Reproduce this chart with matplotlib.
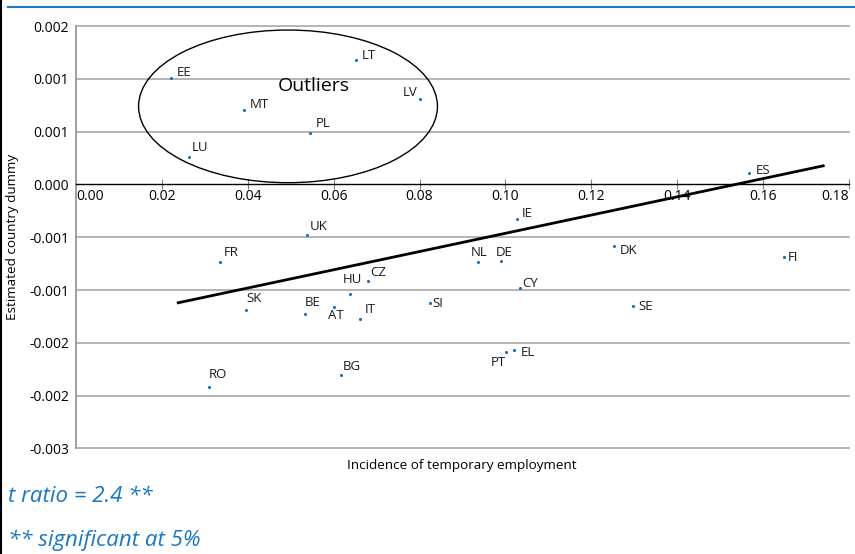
import matplotlib
matplotlib.use("Agg")
from matplotlib import pyplot as plt
from matplotlib.patches import Ellipse
from matplotlib.lines import Line2D

plt.rcParams['font.family'] = ['Open Sans', 'DejaVu Sans']

# Country dummies vs incidence of temporary employment
countries = ['EE', 'MT', 'LU', 'LT', 'LV', 'PL', 'ES', 'IE', 'UK', 'FR', 'DK', 'NL',
             'DE', 'FI', 'CZ', 'HU', 'CY', 'SK', 'BE', 'AT', 'IT', 'SI', 'SE', 'PT',
             'EL', 'BG', 'RO']
temp_share = [0.0221, 0.0392, 0.0262, 0.0652, 0.0800, 0.0545, 0.1568, 0.1027, 0.0538,
              0.0335, 0.1252, 0.0935, 0.0990, 0.1649, 0.0680, 0.0639, 0.1035, 0.0397,
              0.0533, 0.0601, 0.0661, 0.0824, 0.1297, 0.1001, 0.1021, 0.0617, 0.0310]
dummy = [0.00101, 0.000704, 0.000256, 0.001174, 0.000808, 0.000489, 0.00011, -0.000326,
         -0.00048, -0.000733, -0.000581, -0.000739, -0.000729, -0.000688, -0.000919,
         -0.001039, -0.000982, -0.00119, -0.001225, -0.001165, -0.001276, -0.001127,
         -0.001155, -0.001588, -0.001569, -0.001809, -0.001917]

# trend line end points
trend_x = [0.0238, 0.174]
trend_y = [-0.001121, 0.000176]

x_ticks = [0.00, 0.02, 0.04, 0.06, 0.08, 0.10, 0.12, 0.14, 0.16, 0.18]
y_ticks = [0.0015, 0.001, 0.0005, 0.0, -0.0005, -0.001, -0.0015, -0.002, -0.0025]
y_tick_labels = ['0.002', '0.001', '0.001', '0.000', '-0.001', '-0.001', '-0.002', '-0.002', '-0.003']

# label offsets in pixels (default: upper right of the dot)
default_off = (5, 6, 'left')
label_off = {
    'LV': (-2, 7, 'right'), 'HU': (2, 15, 'center'), 'AT': (2, -8, 'center'),
    'PT': (0, -10, 'right'), 'NL': (2, 10, 'center'), 'DE': (3, 9, 'center'),
    'BG': (2, 9, 'left'), 'RO': (0, 12, 'left'), 'UK': (3, 9, 'left'),
    'SK': (0, 12, 'left'), 'FR': (4, 9, 'left'), 'BE': (0, 11, 'left'),
    'IT': (5, 10, 'left'), 'CZ': (2, 9, 'left'), 'CY': (2, 5, 'left'),
    'IE': (5, 5, 'left'), 'DK': (6, -5, 'left'), 'SE': (5, 0, 'left'),
    'FI': (4, 0, 'left'), 'SI': (3, 0, 'left'), 'EL': (6, -2, 'left'),
    'ES': (6, 2, 'left'), 'LT': (6, 5, 'left'), 'MT': (5, 6, 'left'),
    'LU': (3, 10, 'left'), 'PL': (6, 9, 'left'), 'EE': (6, 5, 'left'),
}

blue = '#1f6db3'
text_blue = '#1b78c0'

fig = plt.figure(figsize=(8.55, 5.54), dpi=100)
ax = fig.add_axes([76/855, 1 - 448.4/554, (849 - 76)/855, (448.4 - 26)/554])

ax.set_xlim(0, 0.18)
ax.set_ylim(-0.0025, 0.0015)

for yv in y_ticks:
    if yv != 0:
        ax.axhline(yv, color='#a8a8a8', lw=1.2, zorder=0, clip_on=False)

ax.spines['top'].set_visible(False)
ax.spines['right'].set_visible(False)
ax.spines['left'].set_color('#a0a0a0')
ax.spines['left'].set_linewidth(1.4)
ax.spines['bottom'].set_position(('data', 0))
ax.spines['bottom'].set_color('black')
ax.spines['bottom'].set_linewidth(1.0)

ax.set_xticks(x_ticks)
ax.set_xticklabels([f'{v:.2f}' for v in x_ticks])
ax.set_yticks(y_ticks)
ax.set_yticklabels(y_tick_labels)
ax.tick_params(axis='x', direction='inout', length=7, width=0.8, color='#808080',
               labelsize=10, pad=0)
ax.tick_params(axis='y', length=0, labelsize=10, pad=5)
xlabels = ax.get_xticklabels()
xlabels[0].set_horizontalalignment('left')
xlabels[-1].set_horizontalalignment('right')

ax.plot(trend_x, trend_y, color='black', lw=2.0, zorder=3)

ax.scatter(temp_share, dummy, s=5, color=blue, zorder=4, linewidths=0)
for c, xv, yv in zip(countries, temp_share, dummy):
    dx, dy, ha = label_off.get(c, default_off)
    ax.annotate(c, (xv, yv), xytext=(dx, dy), textcoords='offset pixels',
                ha=ha, va='center', fontsize=9.5, color='#1a1a1a', zorder=5)

ax.add_patch(Ellipse((0.04937, 0.000739), 0.0696, 0.001446, fill=False,
                     edgecolor='black', lw=1.0, zorder=2))
ax.text(0.0554, 0.000931, 'Outliers', fontsize=14, ha='center', va='center')

ax.set_ylabel('Estimated country dummy', fontsize=9.7, labelpad=7)
fig.text(462/855, 1 - 465/554, 'Incidence of temporary employment', fontsize=9.7,
         ha='center', va='center')

fig.text(8/855, 1 - 497/554, 't ratio = 2.4 **', fontsize=16, style='italic',
         color=text_blue, ha='left', va='center')
fig.text(8/855, 1 - 540/554, '** significant at 5%', fontsize=16, style='italic',
         color=text_blue, ha='left', va='center')

# blue rule at top and black frame line on the left
fig.add_artist(Line2D([8/855, 1], [1 - 6.5/554, 1 - 6.5/554], color='#1f78c1', lw=1.5))
fig.add_artist(Line2D([1/855, 1/855], [0, 1], color='black', lw=1.5))

fig.savefig('out.png', dpi=100)
